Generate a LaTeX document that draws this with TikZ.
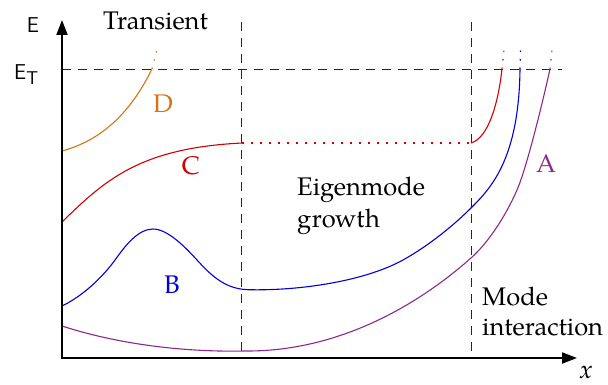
\documentclass[tikz,border=0pt]{standalone}
\usepackage{fontspec}
\IfFontExistsTF{TeX Gyre Pagella}{\setmainfont{TeX Gyre Pagella}}{\setmainfont{Liberation Serif}}
\usetikzlibrary{arrows.meta}
\definecolor{cD}{RGB}{215,115,20}
\definecolor{cC}{RGB}{210,0,0}
\definecolor{cB}{RGB}{0,0,215}
\definecolor{cA}{RGB}{140,40,140}
\tikzset{
  axisline/.style={line width=2pt,-{Triangle[length=15pt,width=11pt]}},
  guide/.style={line width=0.9pt,dash pattern=on 9pt off 7pt,black!85},
  curve/.style={line width=1.1pt},
  dotext/.style={line width=1.1pt,dash pattern=on 1.5pt off 7pt},
  lbl/.style={font=\fontsize{25.5}{31}\selectfont,inner sep=0pt,anchor=base},
  lblw/.style={font=\fontsize{25.5}{31}\selectfont,inner sep=0pt,anchor=base west},
}
\begin{document}
\begin{tikzpicture}[x=1pt,y=-1pt]
\useasboundingbox (0,0) rectangle (608,385);
% coordinates
\coordinate (origin) at (62,358);
\coordinate (ytop) at (62,20);
\coordinate (xend) at (577,358);
\coordinate (etl) at (62,69);
\coordinate (etr) at (562,69);
\coordinate (v1t) at (241.5,22);
\coordinate (v1b) at (241.5,358);
\coordinate (v2t) at (471,22);
\coordinate (v2b) at (471,358);
% guides
\draw[guide] (etl) -- (etr);
\draw[guide] (v1t) -- (v1b);
\draw[guide] (v2t) -- (v2b);
% curve D
\draw[curve,cD] (62,151) .. controls (95,142) and (127,120) .. (152,69);
\draw[dotext,cD] (152,69) -- (158,45);
% curve C
\draw[curve,cC] (62,222) .. controls (105,180) and (140,148) .. (242,143);
\draw[cC,line width=1.1pt,dash pattern=on 2pt off 7pt] (242,143) -- (471,143);
\draw[curve,cC] (471,143) .. controls (488,138) and (498,105) .. (502,69);
\draw[dotext,cC] (502,69) -- (504,50);
% curve B
\draw[curve,cB] (62,306) .. controls (85,295) and (105,274) .. (115,260)
  .. controls (125,246) and (138,229) .. (153,229)
  .. controls (168,229) and (186,248) .. (197,260)
  .. controls (210,274) and (224,289) .. (248,289.7)
  .. controls (300,291) and (365,281) .. (403,260)
  .. controls (430,245) and (455,224) .. (471,208)
  .. controls (490,189) and (519,160) .. (520,69);
\draw[dotext,cB] (520,69) -- (520.5,50);
% curve A
\draw[curve,cA] (62,326) .. controls (130,348) and (200,352) .. (245,351)
  .. controls (360,352) and (445,281) .. (471,258)
  .. controls (487,244) and (505,217.6) .. (517,190)
  .. controls (527,167) and (543,100.5) .. (550,69);
\draw[dotext,cA] (550,69) -- (552,50);
% axes
\draw[axisline,line cap=rect] (origin) -- (ytop);
\draw[axisline,line cap=rect] (origin) -- (xend);
% labels
\node[inner sep=0pt,anchor=base,font=\sffamily\fontsize{21.5}{21.5}\selectfont] (lE) at (33,33) {E};
\node[inner sep=0pt,anchor=base west,font=\sffamily\fontsize{21.5}{21.5}\selectfont] (lET) at (14,80) {E\raisebox{-5pt}{\fontsize{18.5}{18.5}\selectfont T}};
\node[lbl] (lx) at (586,378) {\itshape x};
\node[lbl] (ltr) at (155.5,30) {Transient};
\node[lbl,text=cD] (lD) at (163,113) {D};
\node[lbl,text=cC] (lC) at (191,175) {C};
\node[lbl,text=cB] (lB) at (172,293) {B};
\node[lbl,text=cA] (lA) at (546,173) {A};
\node[lblw] (leg1) at (297,195) {Eigenmode};
\node[lblw] (leg2) at (297,227) {growth};
\node[lblw] (lmi1) at (482,305) {Mode};
\node[lblw] (lmi2) at (482,335) {interaction};
\end{tikzpicture}
\end{document}
